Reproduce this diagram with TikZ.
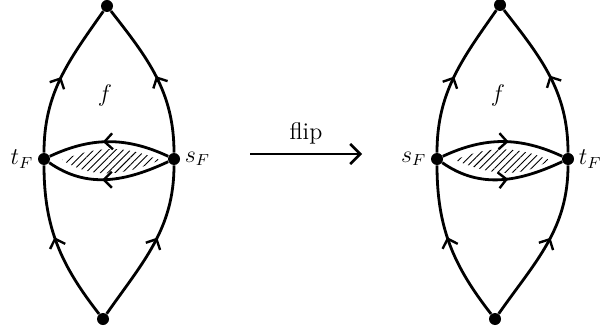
\documentclass[tikz,border=0pt]{standalone}
\usetikzlibrary{arrows.meta,decorations.markings,patterns.meta}
\begin{document}
\begin{tikzpicture}[x=0.5pt,y=0.5pt,font=\large,
  dot/.style={circle,fill=black,inner sep=0pt,minimum size=6pt},
  edge/.style={line width=1.4pt},
  midarrow/.style={postaction={decorate},decoration={markings,
     mark=at position #1 with {\arrow{Straight Barb[length=4pt,width=8pt,line width=1.2pt]}}}},
  hatch/.style={pattern={Lines[angle=45,distance=2.6pt,line width=0.45pt]}},
  lbl/.style={inner sep=2pt}]
\useasboundingbox (0,0) rectangle (603,332);
% left diagram
\node[dot] (T1) at (107,326) {};
\node[dot] (B1) at (103,13) {};
\node[dot] (t1) at (44,173) {};
\node[dot] (s1) at (174,173) {};
\fill[hatch] (62,172) to[out=22,in=157] (160,172) to[out=203,in=-32] (62,172);
\draw[edge,midarrow=0.55] (B1) to[out=128,in=-90] (t1);
\draw[edge,midarrow=0.55] (B1) to[out=55,in=-90] (s1);
\draw[edge,midarrow=0.5] (t1) to[out=90,in=-125] (T1);
\draw[edge,midarrow=0.5] (s1) to[out=90,in=-52] (T1);
\draw[edge,midarrow=0.55] (s1) to[out=155,in=25] (t1);
\draw[edge,midarrow=0.55] (s1) to[out=205,in=-35] (t1);
\node[lbl,anchor=east] (lt1) at (t1.west) {$t_F$};
\node[lbl,anchor=west] (ls1) at (s1.east) {$s_F$};
\node (f1) at (105,236) {$f$};
% arrow
\coordinate (a0) at (250,178);
\coordinate (a1) at (362,178);
\draw[edge,-{Straight Barb[length=5pt,width=10pt,line width=1.3pt]}] (a0) -- node[above=1pt] (flip) {flip} (a1);
% right diagram
\node[dot] (T2) at (500,327) {};
\node[dot] (B2) at (495,13) {};
\node[dot] (s2) at (437,173) {};
\node[dot] (t2) at (568,173) {};
\fill[hatch] (455,172) to[out=23,in=158] (550,172) to[out=212,in=-23] (455,172);
\draw[edge,midarrow=0.55] (B2) to[out=128,in=-90] (s2);
\draw[edge,midarrow=0.55] (B2) to[out=55,in=-90] (t2);
\draw[edge,midarrow=0.5] (s2) to[out=90,in=-125] (T2);
\draw[edge,midarrow=0.5] (t2) to[out=90,in=-52] (T2);
\draw[edge,midarrow=0.55] (s2) to[out=25,in=155] (t2);
\draw[edge,midarrow=0.55] (s2) to[out=-35,in=205] (t2);
\node[lbl,anchor=east] (ls2) at (s2.west) {$s_F$};
\node[lbl,anchor=west] (lt2) at (t2.east) {$t_F$};
\node (f2) at (498,236) {$f$};
\end{tikzpicture}
\end{document}
